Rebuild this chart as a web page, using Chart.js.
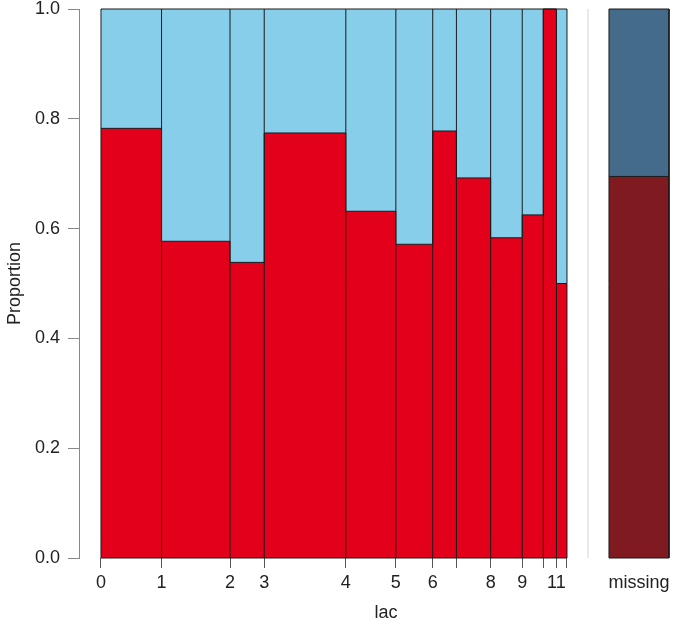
<!DOCTYPE html>
<html>
<head>
<meta charset="utf-8">
<script src="https://cdn.jsdelivr.net/npm/chart.js@4.4.0/dist/chart.umd.min.js"></script>
<style>
html, body { margin:0; padding:0; background:#fff; overflow:hidden; }
#clip { width:683px; height:627px; overflow:hidden; }
#wrap { width:693px; height:627px; position:relative; }
</style>
</head>
<body>
<div id="clip"><div id="wrap"><canvas id="chart-lac"></canvas></div></div>
<script>
// lac bins (spinogram): breaks, cases per bin, cases of the first level per bin
const lacBreaks  = ['0','1','2','3','4','5','6','7','8','9','10','11','12'];
const lacShown   = ['0','1','2','3','4','5','6','','8','9','','11',''];
const binCount   = [23, 26, 13, 31, 19, 14, 9, 13, 12, 8, 5, 4];
const binRed     = [18, 15, 7, 24, 12, 8, 7, 9, 7, 5, 5, 2];
const missingRed = 0.695;   // share of first level where lac is missing
const yTicks     = [0, 0.2, 0.4, 0.6, 0.8, 1.0];

// layout, in units of the spinogram width (0..1)
const X_MIN = -0.0472, X_MAX = 1.2704;
const GAP_X = 1.0451, MISS_L = 1.0901, MISS_R = 1.2189;

const RED = '#e3001b', BLUE = '#87ceeb', DRED = '#7f1a21', DBLUE = '#456b8b';
const EDGE = '#1a1a1a';
const FONT = 'Liberation Sans, Arial, Helvetica, sans-serif';

const total = binCount.reduce((a, b) => a + b, 0);
const cum = [0];
binCount.forEach(c => cum.push(cum[cum.length - 1] + c / total));
const props = binRed.map((r, i) => r / binCount[i]);

// step line: top of the red part of each bin
const stepPts = props.map((p, i) => ({ x: cum[i], y: p }));
stepPts.push({ x: 1, y: props[props.length - 1] });

// bin outlines
const outline = [];
cum.forEach(x => { outline.push({ x, y: 0 }, { x, y: 1 }, { x, y: null }); });
outline.push({ x: 0, y: 1 }, { x: 1, y: 1 }, { x: 1, y: null }, { x: 0, y: 0 }, { x: 1, y: 0 });

const missOutline = [
    { x: MISS_L, y: 0 }, { x: MISS_L, y: 1 }, { x: MISS_R, y: 1 }, { x: MISS_R, y: 0 }, { x: MISS_L, y: 0 }
];

function ds(data, extra) {
    return Object.assign({ data, showLine: true, pointRadius: 0, borderWidth: 0, fill: false, clip: false }, extra);
}

new Chart(document.getElementById('chart-lac'), {
    type: 'scatter',
    data: {
        datasets: [
            ds(stepPts, { order: 4, stepped: 'before', fill: 'end', backgroundColor: BLUE, borderColor: 'rgba(0,0,0,0)' }),
            ds(stepPts, { order: 3, stepped: 'before', fill: 'origin', backgroundColor: RED, borderColor: EDGE, borderWidth: 1 }),
            ds(outline, { order: 1, borderColor: EDGE, borderWidth: 1, spanGaps: false }),
            ds([{ x: GAP_X, y: 0 }, { x: GAP_X, y: 1 }], { order: 1, borderColor: '#e3e3e3', borderWidth: 1.5 }),
            ds([{ x: MISS_L, y: missingRed }, { x: MISS_R, y: missingRed }], { order: 4, fill: 'end', backgroundColor: DBLUE, borderColor: 'rgba(0,0,0,0)' }),
            ds([{ x: MISS_L, y: missingRed }, { x: MISS_R, y: missingRed }], { order: 3, fill: 'origin', backgroundColor: DRED, borderColor: EDGE, borderWidth: 1 }),
            ds(missOutline, { order: 1, borderColor: EDGE, borderWidth: 1 })
        ]
    },
    options: {
        responsive: true, maintainAspectRatio: false, animation: false,
        layout: { padding: { left: 0, right: 0, top: 9, bottom: 0 } },
        plugins: { legend: { display: false }, tooltip: { enabled: false } },
        scales: {
            x: {
                type: 'linear', min: X_MIN, max: X_MAX,
                afterBuildTicks: s => { s.ticks = cum.map(v => ({ value: v })).concat([{ value: (MISS_L + MISS_R) / 2 }]); },
                afterFit: s => { s.height = 69; },
                border: { display: false },
                grid: { drawOnChartArea: false, tickLength: 10, lineWidth: 1,
                        color: c => c.index === lacBreaks.length ? 'rgba(0,0,0,0)' : '#555' },
                ticks: { autoSkip: false, maxRotation: 0, padding: 4, color: '#222',
                         font: { family: FONT, size: 18 },
                         callback: (v, i) => i < lacShown.length ? lacShown[i] : 'missing' },
                title: { display: true, text: 'lac', color: '#222', font: { family: FONT, size: 18 }, padding: { top: 0, bottom: 3 } }
            },
            y: {
                min: 0, max: 1,
                afterBuildTicks: s => { s.ticks = yTicks.map(v => ({ value: v })); },
                afterFit: s => { s.width = 79; s.paddingTop = 0; s.paddingBottom = 0; },
                border: { display: true, color: '#888', width: 1 },
                grid: { drawOnChartArea: false, tickLength: 11, color: '#888' },
                ticks: { padding: 8, color: '#222', font: { family: FONT, size: 18 }, callback: v => v.toFixed(1) },
                title: { display: true, text: 'Proportion', color: '#222', font: { family: FONT, size: 18 }, padding: { top: 4, bottom: 0 } }
            }
        }
    }
});
</script>
</body>
</html>
